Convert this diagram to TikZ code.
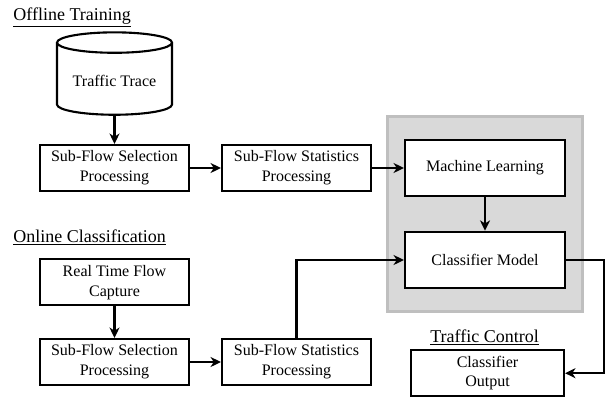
\documentclass[tikz,border=0pt]{standalone}
\usepackage{fontspec}
\setmainfont{Liberation Serif}
\usetikzlibrary{positioning, arrows.meta, shapes.geometric, backgrounds}

\begin{document}
\begin{tikzpicture}[
    box/.style={draw, line width=1.5pt, fill=white, minimum height=11.5mm, minimum width=37.25mm, font=\fontsize{11.4}{14}\selectfont, align=center, inner sep=2pt},
    wide/.style={box, minimum width=40mm, minimum height=14.1mm},
    title/.style={font=\fontsize{12.8}{15}\selectfont, anchor=base west, inner sep=0pt},
    arr/.style={draw, line width=1.7pt, -{Stealth[length=2.6mm, width=2.5mm, inset=0.8mm]}},
    db/.style={draw, line width=1.5pt, cylinder, shape border rotate=90, aspect=0.22, minimum width=28.75mm, minimum height=20.6mm, font=\fontsize{11.4}{14}\selectfont}
]
\useasboundingbox (0,0) rectangle (15.225,-9.925);
% bloque gris
\node[draw=black!25, line width=2pt, fill=black!15, minimum width=48.75mm, minimum height=48.75mm, inner sep=0pt] (grp) at (12.125,-5.35) {};

% entrenamiento
\node[title] (ttrain) at (0.33,-0.5) {\underline{Offline Training}};
\node[db] (trace) at (2.8625,-2.03) {Traffic Trace};
\node[box] (sel1) at (2.8625,-4.2) {Sub-Flow Selection\\Processing};
\node[box] (stat1) at (7.4125,-4.2) {Sub-Flow Statistics\\Processing};
\node[wide] (ml) at (12.125,-4.2) {Machine Learning};
\node[wide] (cm) at (12.125,-6.5) {Classifier Model};

% clasificacion
\node[title] (tonline) at (0.33,-6.05) {\underline{Online Classification}};
\node[box] (cap) at (2.8625,-7.06) {Real Time Flow\\Capture};
\node[box] (sel2) at (2.8625,-9.05) {Sub-Flow Selection\\Processing};
\node[box] (stat2) at (7.4125,-9.05) {Sub-Flow Statistics\\Processing};

% control
\node[title] (tctrl) at (10.75,-8.55) {\underline{Traffic Control}};
\node[box, minimum width=38.25mm] (out) at (12.1875,-9.33) {Classifier\\Output};
\coordinate (turn) at (15.1,-6.5);

\path[arr] (trace) -- (sel1);
\path[arr] (sel1) -- (stat1);
\path[arr] (stat1) -- (ml);
\path[arr] (ml) -- (cm);
\path[arr] (cap) -- (sel2);
\path[arr] (sel2) -- (stat2);
\path[arr] (stat2.north) |- (cm.west);
\path[arr] (cm.east) -- (turn) |- (out.east);
\end{tikzpicture}
\end{document}
